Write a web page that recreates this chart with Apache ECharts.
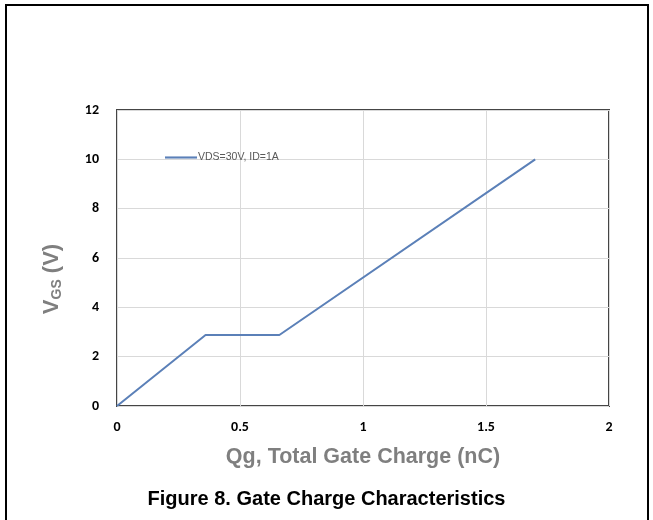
<!DOCTYPE html>
<html>
<head>
<meta charset="utf-8">
<script src="https://cdn.jsdelivr.net/npm/echarts@6/dist/echarts.min.js"></script>
<style>
  html, body { margin: 0; padding: 0; background: #fff; }
  #chart { width: 653px; height: 520px; }
</style>
</head>
<body>
<div id="chart"></div>
<script>
// Gate charge curve: Qg (nC) vs VGS (V)
const qgValues = [0, 0.36, 0.66, 1.7];
const vgsValues = [0, 2.88, 2.88, 10];
const seriesName = 'VDS=30V, ID=1A';
const xTicks = [0, 0.5, 1, 1.5, 2];
const yTicks = [0, 2, 4, 6, 8, 10, 12];

const points = qgValues.map((q, i) => [q, vgsValues[i]]);

const FONT = 'Liberation Sans, Arial, sans-serif';
const TICK_FONT = 'Carlito, Liberation Sans Narrow, Liberation Sans, sans-serif';
const chart = echarts.init(document.getElementById('chart'), null, { renderer: 'canvas' });

const tickFont = { fontFamily: TICK_FONT, fontWeight: 'bold', fontSize: 14, color: '#000' };

chart.setOption({
  animation: false,
  backgroundColor: '#fff',
  grid: { left: 117, right: 44, top: 110, bottom: 114, show: true, borderColor: '#454545', borderWidth: 2 },
  title: {
    text: 'Figure 8. Gate Charge Characteristics',
    left: 'center',
    top: 484,
    textStyle: { fontFamily: FONT, fontWeight: 'bold', fontSize: 20, color: '#000' }
  },
  legend: {
    show: true,
    left: 160,
    top: 147,
    itemWidth: 32,
    itemHeight: 10,
    itemGap: 4,
    icon: 'path://M0,4 L30,4 L30,6 L0,6 Z',
    textStyle: { fontFamily: FONT, fontSize: 10.5, color: '#595959', padding: [0, 0, 0, -4] },
    data: [seriesName]
  },
  xAxis: {
    type: 'value',
    min: xTicks[0],
    max: xTicks[xTicks.length - 1],
    interval: 0.5,
    name: 'Qg, Total Gate Charge (nC)',
    nameLocation: 'middle',
    nameGap: 40,
    nameTextStyle: { fontFamily: FONT, fontWeight: 'bold', fontSize: 21.5, color: '#7f7f7f' },
    axisLine: { show: false },
    axisTick: { show: false },
    axisLabel: Object.assign({ margin: 14 }, tickFont),
    splitLine: { show: true, lineStyle: { color: '#d9d9d9', width: 1 } }
  },
  yAxis: {
    type: 'value',
    min: yTicks[0],
    max: yTicks[yTicks.length - 1],
    interval: 2,
    axisLine: { show: false },
    axisTick: { show: false },
    axisLabel: Object.assign({ margin: 18 }, tickFont),
    splitLine: { show: true, lineStyle: { color: '#d9d9d9', width: 1 } }
  },
  series: [{
    name: seriesName,
    type: 'line',
    data: points,
    showSymbol: false,
    lineStyle: { color: '#5b80b8', width: 2 },
    itemStyle: { color: '#5b80b8' }
  }],
  graphic: [{
    type: 'rect',
    shape: { x: 6, y: 5, width: 642, height: 530 },
    style: { fill: null, stroke: '#000', lineWidth: 2 },
    silent: true
  }, {
    // y-axis title with subscript
    type: 'text',
    x: 52,
    y: 279,
    rotation: Math.PI / 2,
    silent: true,
    style: {
      text: '{v|V}{s|GS}{v| (V)}',
      align: 'center',
      verticalAlign: 'middle',
      rich: {
        v: { fontFamily: FONT, fontWeight: 'bold', fontSize: 22, fill: '#7f7f7f', verticalAlign: 'middle' },
        s: { fontFamily: FONT, fontWeight: 'bold', fontSize: 14, fill: '#7f7f7f', verticalAlign: 'bottom', padding: [10, 0, 0, 0] }
      }
    }
  }]
});
</script>
</body>
</html>
